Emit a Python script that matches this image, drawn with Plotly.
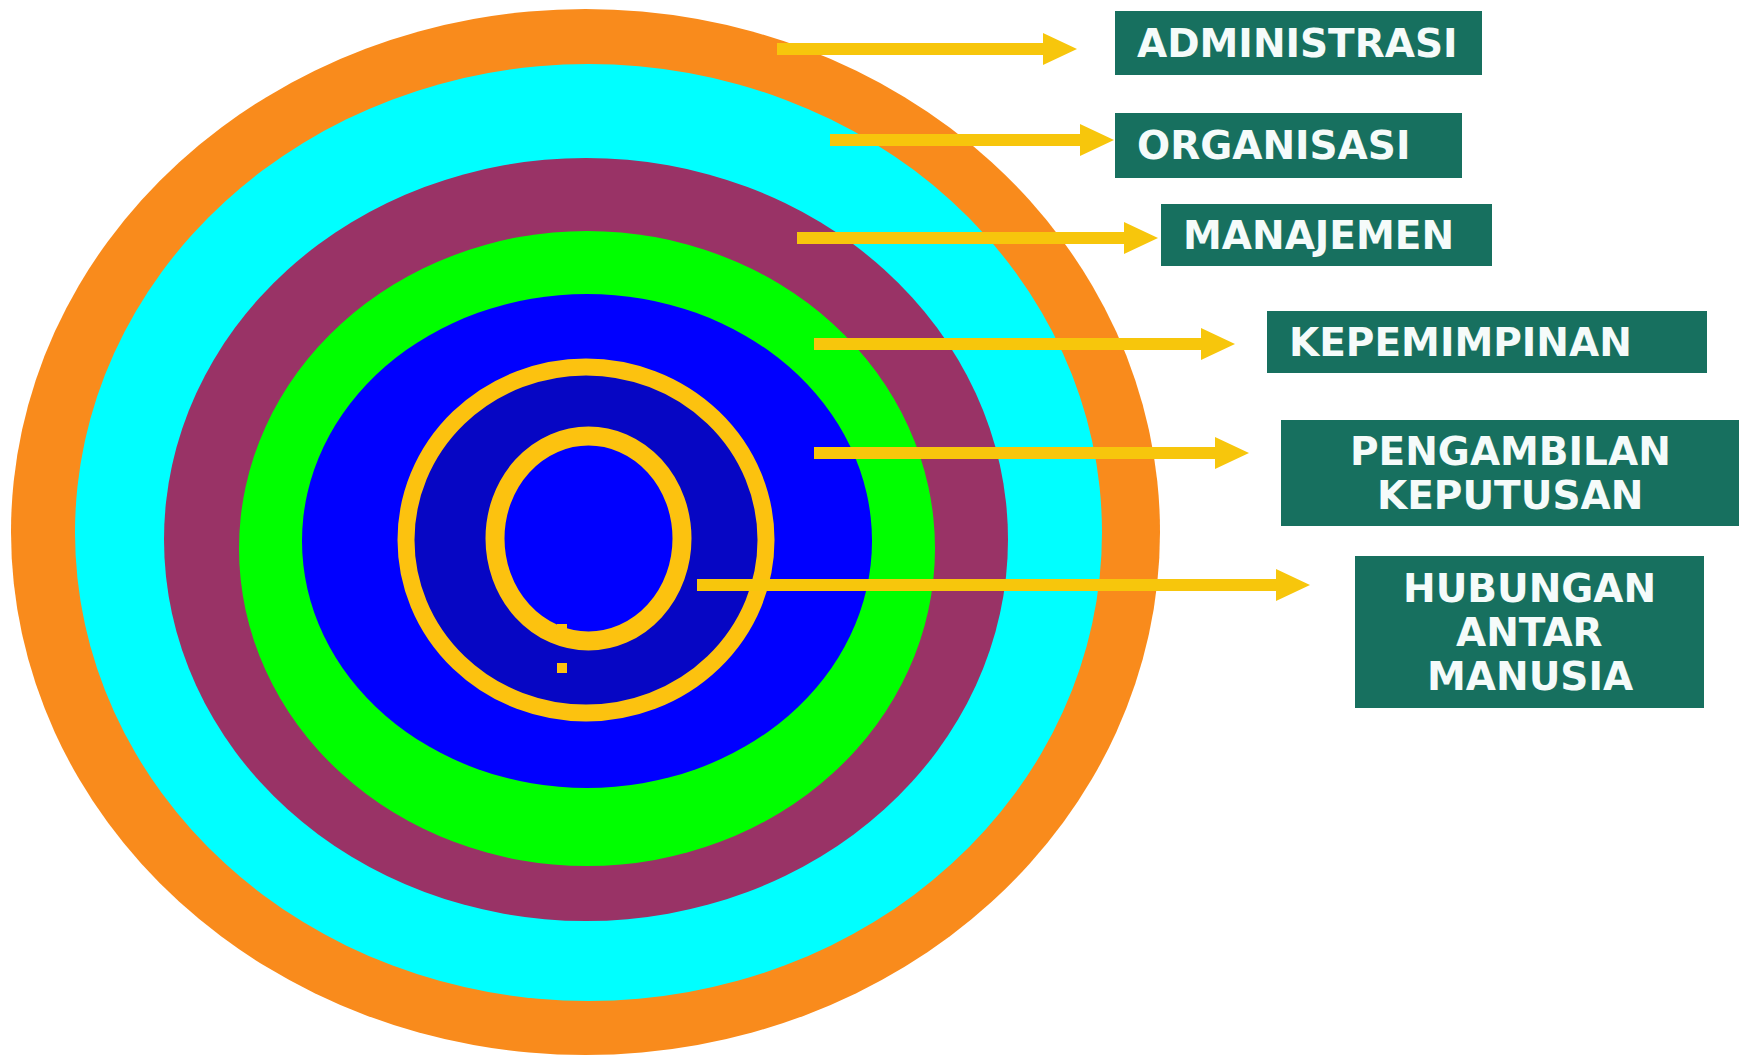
import plotly.graph_objects as go

# ---------------- data ----------------
# Layer labels (outer -> inner)
labels = ["ADMINISTRASI", "ORGANISASI", "MANAJEMEN", "KEPEMIMPINAN",
          "PENGAMBILAN<br>KEPUTUSAN", "HUBUNGAN<br>ANTAR<br>MANUSIA"]

# Filled ellipse extents (outer -> inner)
ell_left = [11, 75, 164, 239, 302]
ell_right = [1160, 1102, 1008, 935, 872]
ell_top = [9, 64, 158, 231, 294]
ell_bottom = [1055, 1001, 921, 866, 788]

# Yellow rings (centre-line extents, outer -> inner)
ring_left = [406, 495]
ring_right = [766, 682]
ring_top = [367, 436]
ring_bottom = [713, 641]

# Arrows
arrow_y = [49, 140, 238, 344, 453, 585]
arrow_start = [777, 830, 797, 814, 814, 697]
arrow_tip = [1077, 1114, 1158, 1235, 1249, 1310]

# Label boxes
box_left = [1115, 1115, 1161, 1267, 1281, 1355]
box_right = [1482, 1462, 1492, 1707, 1739, 1704]
box_top = [11, 113, 204, 311, 420, 556]
box_bottom = [75, 178, 266, 373, 526, 708]

# small yellow marks inside the centre
mark_x = [562, 562]
mark_y = [668, 629]

# ---------------- styles ----------------
ell_colors = ["#F98B1C", "#00FFFF", "#993366", "#00FF00", "#0000FF"]
ring_fill = ["#0606C4", "#0000FF"]
ring_width = [17, 19]
yellow = "#FCC20F"
arrow_color = "#F7C60C"
box_color = "#17705F"
text_color = "#F5FBFA"
font_size = 39
line_gap = 44
head_len = 34
head_half = 16
W, H = 1741, 1056

shapes = []
for l, r, t, b, c in zip(ell_left, ell_right, ell_top, ell_bottom, ell_colors):
    shapes.append(dict(type="circle", xref="x", yref="y", x0=l, x1=r, y0=t, y1=b,
                       fillcolor=c, line=dict(width=0), layer="above"))
for l, r, t, b, fc, w in zip(ring_left, ring_right, ring_top, ring_bottom, ring_fill, ring_width):
    shapes.append(dict(type="circle", xref="x", yref="y", x0=l, x1=r, y0=t, y1=b,
                       fillcolor=fc, line=dict(width=w, color=yellow), layer="above"))
for mx, my in zip(mark_x, mark_y):
    shapes.append(dict(type="rect", xref="x", yref="y", x0=mx - 5, x1=mx + 5,
                       y0=my - 5, y1=my + 5, fillcolor=yellow, line=dict(width=0),
                       layer="above"))

for y, x0, x1 in zip(arrow_y, arrow_start, arrow_tip):
    shapes.append(dict(type="line", xref="x", yref="y", x0=x0, x1=x1 - head_len + 2,
                       y0=y, y1=y, line=dict(color=arrow_color, width=12), layer="above"))
    shapes.append(dict(type="path", xref="x", yref="y",
                       path=f"M {x1 - head_len},{y - head_half} L {x1},{y} L {x1 - head_len},{y + head_half} Z",
                       fillcolor=arrow_color, line=dict(width=0), layer="above"))

annotations = []
for lab, l, r, t, b in zip(labels, box_left, box_right, box_top, box_bottom):
    shapes.append(dict(type="rect", xref="x", yref="y", x0=l, x1=r, y0=t, y1=b,
                       fillcolor=box_color, line=dict(width=0), layer="above"))
    lines = lab.split("<br>")
    cy = (t + b) / 2
    n = len(lines)
    for i, s in enumerate(lines):
        yy = cy + (i - (n - 1) / 2) * line_gap
        if n == 1:
            ax, anchor = l + 20, "left"
        else:
            ax, anchor = (l + r) / 2, "center"
        annotations.append(dict(x=ax, y=yy, xref="x", yref="y", text=s, showarrow=False,
                                xanchor=anchor, yanchor="middle",
                                font=dict(family="DejaVu Sans", size=font_size,
                                          color=text_color, weight="bold")))

fig = go.Figure()
fig.add_trace(go.Scatter(x=[0, W], y=[0, H], mode="markers",
                         marker=dict(opacity=0), hoverinfo="skip", showlegend=False))
fig.update_layout(
    width=W, height=H, margin=dict(l=0, r=0, t=0, b=0),
    paper_bgcolor="white", plot_bgcolor="white",
    xaxis=dict(range=[0, W], visible=False, fixedrange=True),
    yaxis=dict(range=[H, 0], visible=False, fixedrange=True),
    shapes=shapes, annotations=annotations, showlegend=False,
)
fig.write_html("out.html", config={"displayModeBar": False},
               post_script="document.body.style.margin='0';document.body.style.overflow='hidden';")
